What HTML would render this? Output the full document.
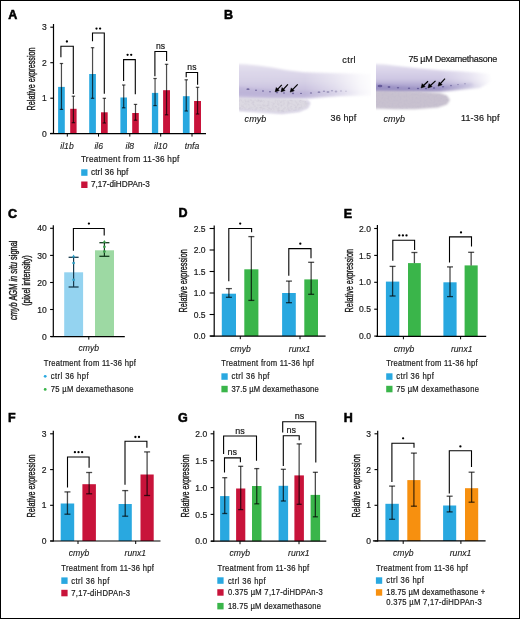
<!DOCTYPE html>
<html><head><meta charset="utf-8"><style>
html,body{margin:0;padding:0;background:#fff;}
svg{display:block;will-change:transform;}
text{font-family:"Liberation Sans",sans-serif;stroke:#1a1a1a;stroke-width:0.2px;}
</style></head><body>
<svg width="520" height="619" viewBox="0 0 520 619">
<rect x="0" y="0" width="520" height="619" fill="#fff"/>
<text x="8.2" y="18.6" font-size="12.5" fill="#000" font-weight="bold" style="stroke:#000;stroke-width:0.55px">A</text>
<line x1="53.5" y1="24" x2="53.5" y2="134.0" stroke="#000" stroke-width="1.2"/>
<line x1="50.3" y1="27.2" x2="53.5" y2="27.2" stroke="#000" stroke-width="1.1"/>
<text transform="translate(46.8,30.3) scale(0.95,1)" x="0" y="0" font-size="9" fill="#1a1a1a" text-anchor="end">3</text>
<line x1="50.3" y1="62.7" x2="53.5" y2="62.7" stroke="#000" stroke-width="1.1"/>
<text transform="translate(46.8,65.8) scale(0.95,1)" x="0" y="0" font-size="9" fill="#1a1a1a" text-anchor="end">2</text>
<line x1="50.3" y1="98.2" x2="53.5" y2="98.2" stroke="#000" stroke-width="1.1"/>
<text transform="translate(46.8,101.3) scale(0.95,1)" x="0" y="0" font-size="9" fill="#1a1a1a" text-anchor="end">1</text>
<line x1="50.3" y1="133.4" x2="53.5" y2="133.4" stroke="#000" stroke-width="1.1"/>
<text transform="translate(46.8,136.5) scale(0.95,1)" x="0" y="0" font-size="9" fill="#1a1a1a" text-anchor="end">0</text>
<text transform="translate(35.0,78.95) rotate(-90)" font-size="10.3" fill="#1a1a1a" text-anchor="middle" textLength="62.900000000000006" lengthAdjust="spacingAndGlyphs" style="stroke-width:0.38px">Relative expression</text>
<rect x="58.1" y="86.9" width="6.699999999999996" height="46.5" fill="#29A8E0"/>
<line x1="61.45" y1="63.5" x2="61.45" y2="109.4" stroke="#000" stroke-width="1.2" stroke-opacity="0.7"/>
<line x1="59.75" y1="63.5" x2="63.150000000000006" y2="63.5" stroke="#000" stroke-width="1.2" stroke-opacity="0.7"/>
<line x1="59.75" y1="109.4" x2="63.150000000000006" y2="109.4" stroke="#000" stroke-width="1.2" stroke-opacity="0.7"/>
<rect x="70.2" y="108.8" width="6.3999999999999915" height="24.60000000000001" fill="#C8133A"/>
<line x1="73.4" y1="96.2" x2="73.4" y2="122.7" stroke="#000" stroke-width="1.2" stroke-opacity="0.7"/>
<line x1="71.7" y1="96.2" x2="75.10000000000001" y2="96.2" stroke="#000" stroke-width="1.2" stroke-opacity="0.7"/>
<line x1="71.7" y1="122.7" x2="75.10000000000001" y2="122.7" stroke="#000" stroke-width="1.2" stroke-opacity="0.7"/>
<path d="M60.9,57.2 L60.9,46.3 L73.3,46.3 L73.3,94.0" fill="none" stroke="#000" stroke-width="1.1"/>
<circle cx="66.90" cy="41.5" r="1.15" fill="#000"/>
<rect x="89.2" y="74.0" width="6.700000000000003" height="59.400000000000006" fill="#29A8E0"/>
<line x1="92.55000000000001" y1="47.7" x2="92.55000000000001" y2="98.3" stroke="#000" stroke-width="1.2" stroke-opacity="0.7"/>
<line x1="90.85000000000001" y1="47.7" x2="94.25000000000001" y2="47.7" stroke="#000" stroke-width="1.2" stroke-opacity="0.7"/>
<line x1="90.85000000000001" y1="98.3" x2="94.25000000000001" y2="98.3" stroke="#000" stroke-width="1.2" stroke-opacity="0.7"/>
<rect x="101.0" y="112.3" width="6.700000000000003" height="21.10000000000001" fill="#C8133A"/>
<line x1="104.35" y1="98.3" x2="104.35" y2="123.0" stroke="#000" stroke-width="1.2" stroke-opacity="0.7"/>
<line x1="102.64999999999999" y1="98.3" x2="106.05" y2="98.3" stroke="#000" stroke-width="1.2" stroke-opacity="0.7"/>
<line x1="102.64999999999999" y1="123.0" x2="106.05" y2="123.0" stroke="#000" stroke-width="1.2" stroke-opacity="0.7"/>
<path d="M92.5,41.3 L92.5,33.0 L104.3,33.0 L104.3,93.7" fill="none" stroke="#000" stroke-width="1.1"/>
<circle cx="96.50" cy="28.6" r="1.15" fill="#000"/>
<circle cx="100.10" cy="28.6" r="1.15" fill="#000"/>
<rect x="120.4" y="97.5" width="6.599999999999994" height="35.900000000000006" fill="#29A8E0"/>
<line x1="123.7" y1="85.0" x2="123.7" y2="107.8" stroke="#000" stroke-width="1.2" stroke-opacity="0.7"/>
<line x1="122.0" y1="85.0" x2="125.4" y2="85.0" stroke="#000" stroke-width="1.2" stroke-opacity="0.7"/>
<line x1="122.0" y1="107.8" x2="125.4" y2="107.8" stroke="#000" stroke-width="1.2" stroke-opacity="0.7"/>
<rect x="132.2" y="113.0" width="6.600000000000023" height="20.400000000000006" fill="#C8133A"/>
<line x1="135.5" y1="104.4" x2="135.5" y2="120.2" stroke="#000" stroke-width="1.2" stroke-opacity="0.7"/>
<line x1="133.8" y1="104.4" x2="137.2" y2="104.4" stroke="#000" stroke-width="1.2" stroke-opacity="0.7"/>
<line x1="133.8" y1="120.2" x2="137.2" y2="120.2" stroke="#000" stroke-width="1.2" stroke-opacity="0.7"/>
<path d="M123.6,81.0 L123.6,59.6 L135.3,59.6 L135.3,94.2" fill="none" stroke="#000" stroke-width="1.1"/>
<circle cx="127.60" cy="54.8" r="1.15" fill="#000"/>
<circle cx="131.20" cy="54.8" r="1.15" fill="#000"/>
<rect x="151.9" y="92.9" width="6.299999999999983" height="40.5" fill="#29A8E0"/>
<line x1="155.05" y1="78.5" x2="155.05" y2="105.6" stroke="#000" stroke-width="1.2" stroke-opacity="0.7"/>
<line x1="153.35000000000002" y1="78.5" x2="156.75" y2="78.5" stroke="#000" stroke-width="1.2" stroke-opacity="0.7"/>
<line x1="153.35000000000002" y1="105.6" x2="156.75" y2="105.6" stroke="#000" stroke-width="1.2" stroke-opacity="0.7"/>
<rect x="163.1" y="90.2" width="6.900000000000006" height="43.2" fill="#C8133A"/>
<line x1="166.55" y1="64.3" x2="166.55" y2="114.8" stroke="#000" stroke-width="1.2" stroke-opacity="0.7"/>
<line x1="164.85000000000002" y1="64.3" x2="168.25" y2="64.3" stroke="#000" stroke-width="1.2" stroke-opacity="0.7"/>
<line x1="164.85000000000002" y1="114.8" x2="168.25" y2="114.8" stroke="#000" stroke-width="1.2" stroke-opacity="0.7"/>
<path d="M154.9,76.2 L154.9,51.5 L166.6,51.5 L166.6,61.0" fill="none" stroke="#000" stroke-width="1.1"/>
<text x="160.6" y="48.699999999999996" font-size="8.6" fill="#1a1a1a" text-anchor="middle">ns</text>
<rect x="182.9" y="96.2" width="6.699999999999989" height="37.2" fill="#29A8E0"/>
<line x1="186.25" y1="79.8" x2="186.25" y2="111.0" stroke="#000" stroke-width="1.2" stroke-opacity="0.7"/>
<line x1="184.55" y1="79.8" x2="187.95" y2="79.8" stroke="#000" stroke-width="1.2" stroke-opacity="0.7"/>
<line x1="184.55" y1="111.0" x2="187.95" y2="111.0" stroke="#000" stroke-width="1.2" stroke-opacity="0.7"/>
<rect x="194.1" y="101.0" width="6.900000000000006" height="32.400000000000006" fill="#C8133A"/>
<line x1="197.55" y1="87.3" x2="197.55" y2="114.0" stroke="#000" stroke-width="1.2" stroke-opacity="0.7"/>
<line x1="195.85000000000002" y1="87.3" x2="199.25" y2="87.3" stroke="#000" stroke-width="1.2" stroke-opacity="0.7"/>
<line x1="195.85000000000002" y1="114.0" x2="199.25" y2="114.0" stroke="#000" stroke-width="1.2" stroke-opacity="0.7"/>
<path d="M186.2,77.3 L186.2,72.5 L197.6,72.5 L197.6,84.8" fill="none" stroke="#000" stroke-width="1.1"/>
<text x="191.9" y="69.80000000000001" font-size="8.6" fill="#1a1a1a" text-anchor="middle">ns</text>
<line x1="50" y1="133.6" x2="206" y2="133.6" stroke="#000" stroke-width="1.2"/>
<line x1="67.3" y1="133.6" x2="67.3" y2="136.6" stroke="#000" stroke-width="1"/>
<line x1="98.5" y1="133.6" x2="98.5" y2="136.6" stroke="#000" stroke-width="1"/>
<line x1="129.8" y1="133.6" x2="129.8" y2="136.6" stroke="#000" stroke-width="1"/>
<line x1="160.7" y1="133.6" x2="160.7" y2="136.6" stroke="#000" stroke-width="1"/>
<line x1="192.0" y1="133.6" x2="192.0" y2="136.6" stroke="#000" stroke-width="1"/>
<text transform="translate(67,148.8) scale(0.9,1)" x="0" y="0" font-size="9.6" fill="#1a1a1a" text-anchor="middle" font-style="italic" style="stroke-width:0.12px">il1b</text>
<text transform="translate(98.7,148.8) scale(0.9,1)" x="0" y="0" font-size="9.6" fill="#1a1a1a" text-anchor="middle" font-style="italic" style="stroke-width:0.12px">il6</text>
<text transform="translate(129.8,148.8) scale(0.9,1)" x="0" y="0" font-size="9.6" fill="#1a1a1a" text-anchor="middle" font-style="italic" style="stroke-width:0.12px">il8</text>
<text transform="translate(160.7,148.8) scale(0.9,1)" x="0" y="0" font-size="9.6" fill="#1a1a1a" text-anchor="middle" font-style="italic" style="stroke-width:0.12px">il10</text>
<text transform="translate(192,148.8) scale(0.9,1)" x="0" y="0" font-size="9.6" fill="#1a1a1a" text-anchor="middle" font-style="italic" style="stroke-width:0.12px">tnfa</text>
<text transform="translate(80.9,161.8) scale(0.92,1)" x="0" y="0" font-size="8.9" fill="#1a1a1a" textLength="107.0" lengthAdjust="spacing">Treatment from 11-36 hpf</text>
<rect x="81.2" y="169.3" width="6.299999999999997" height="6.5" fill="#29A8E0"/>
<text transform="translate(90.9,175.0) scale(0.92,1)" x="0" y="0" font-size="8.9" fill="#1a1a1a" textLength="40.7" lengthAdjust="spacing">ctrl 36 hpf</text>
<rect x="81.2" y="181.5" width="6.299999999999997" height="6.5" fill="#C8133A"/>
<text transform="translate(90.9,187.2) scale(0.92,1)" x="0" y="0" font-size="8.9" fill="#1a1a1a" textLength="64.0" lengthAdjust="spacing">7,17-diHDPAn-3</text>
<text x="224.0" y="18.7" font-size="12.5" fill="#000" font-weight="bold" style="stroke:#000;stroke-width:0.55px">B</text>
<defs>
<filter id="bl1" x="-20%" y="-50%" width="140%" height="200%"><feGaussianBlur stdDeviation="1"/></filter>
<filter id="bl05" x="-20%" y="-50%" width="140%" height="200%"><feGaussianBlur stdDeviation="0.55"/></filter>
<linearGradient id="v1" x1="0" y1="64" x2="0" y2="99" gradientUnits="userSpaceOnUse">
<stop offset="0" stop-color="#e6e2ef"/><stop offset="0.22" stop-color="#ddd8ea"/><stop offset="0.5" stop-color="#d6d0e6"/><stop offset="0.7" stop-color="#cbc4e0"/><stop offset="0.85" stop-color="#c4bcdc"/><stop offset="1" stop-color="#cfc8e2"/>
</linearGradient>
<linearGradient id="v2" x1="0" y1="64" x2="0" y2="92" gradientUnits="userSpaceOnUse">
<stop offset="0" stop-color="#e3dfee"/><stop offset="0.25" stop-color="#d9d3e9"/><stop offset="0.55" stop-color="#cdc6e2"/><stop offset="0.78" stop-color="#aea5d0"/><stop offset="1" stop-color="#b5adcd"/>
</linearGradient>
<linearGradient id="fade1" x1="239" y1="0" x2="371" y2="0" gradientUnits="userSpaceOnUse">
<stop offset="0" stop-color="#fff"/><stop offset="0.5" stop-color="#fff"/><stop offset="0.72" stop-color="#fff" stop-opacity="0.6"/><stop offset="0.92" stop-color="#fff" stop-opacity="0.15"/><stop offset="1" stop-color="#fff" stop-opacity="0.05"/>
</linearGradient>
<linearGradient id="fade2" x1="376" y1="0" x2="492" y2="0" gradientUnits="userSpaceOnUse">
<stop offset="0" stop-color="#fff"/><stop offset="0.55" stop-color="#fff"/><stop offset="0.8" stop-color="#fff" stop-opacity="0.55"/><stop offset="1" stop-color="#fff" stop-opacity="0"/>
</linearGradient>
<mask id="m1"><rect x="239" y="40" width="132" height="80" fill="url(#fade1)"/></mask>
<mask id="m2"><rect x="376" y="40" width="135" height="80" fill="url(#fade2)"/></mask>
<clipPath id="c1"><rect x="239" y="40" width="132" height="80"/></clipPath>
<clipPath id="c2"><rect x="376" y="40" width="135" height="80"/></clipPath>
<filter id="tex" x="0" y="0" width="100%" height="100%"><feTurbulence type="fractalNoise" baseFrequency="0.4" numOctaves="2" seed="3"/><feColorMatrix values="0 0 0 0 0.42  0 0 0 0 0.38  0 0 0 0 0.5  0 0 0 1.1 -0.45"/><feComposite in2="SourceGraphic" operator="in"/></filter>
<filter id="tex2" x="0" y="0" width="100%" height="100%"><feTurbulence type="fractalNoise" baseFrequency="0.5" numOctaves="2" seed="7"/><feColorMatrix values="0 0 0 0 0.5  0 0 0 0 0.46  0 0 0 0 0.6  0 0 0 1.1 -0.45"/><feComposite in2="SourceGraphic" operator="in"/></filter>
</defs>
<g clip-path="url(#c1)">
<g mask="url(#m1)">
<path filter="url(#bl1)" d="M232,63.8 L245,64.3 L258,65.6 L272,67.6 L287,70.2 L304,72.3 L330,73 L380,74 L380,95 L340,96 L310,98.5 L280,99.5 L232,99.5 Z" fill="url(#v1)"/>
<path filter="url(#bl1)" d="M232,86 L260,89 L290,91.5 L320,91 L345,90 L375,90 L375,95 L345,95.5 L320,96 L300,97.5 L270,97.5 L232,95 Z" fill="#b4aad4" opacity="0.45"/>
<g filter="url(#bl05)" fill="#625892" opacity="0.8">
<ellipse cx="248" cy="89.2" rx="1.6" ry="0.9"/>
<ellipse cx="256" cy="90.2" rx="1" ry="0.7"/>
<ellipse cx="263" cy="91" rx="1" ry="0.7"/>
<ellipse cx="270" cy="91.8" rx="1" ry="0.7"/>
<ellipse cx="277" cy="92.6" rx="1.2" ry="0.8"/>
<ellipse cx="284" cy="93" rx="1.1" ry="0.8"/>
<ellipse cx="293" cy="93.4" rx="1.2" ry="0.8"/>
<ellipse cx="301" cy="93.4" rx="1" ry="0.7"/>
<ellipse cx="311" cy="93" rx="1.1" ry="0.8"/>
<ellipse cx="319" cy="92.2" rx="1.4" ry="0.9"/>
<ellipse cx="324" cy="91.2" rx="1.2" ry="0.8"/>
<ellipse cx="328" cy="92" rx="1.5" ry="1"/>
<ellipse cx="332" cy="90.8" rx="1.2" ry="0.8"/>
<ellipse cx="336" cy="91.5" rx="1.3" ry="0.9"/>
<ellipse cx="341" cy="91" rx="1.1" ry="0.8"/>
<ellipse cx="346" cy="91.3" rx="0.9" ry="0.7"/>
</g>
</g>
<path filter="url(#bl1)" d="M232,97.5 L270,98.5 L300,98.8 L306,100 L309.5,103 L307.5,107.5 L299,111 L282,113 L262,111.8 L232,110 Z" fill="#dcd9e2"/>
<path d="M239,99 L270,99.5 L300,99.8 L305.5,101 L308.5,103.5 L306.5,107.5 L298.5,110.5 L282,112.3 L262,111 L239,109.5 Z" filter="url(#tex)" opacity="0.5"/>
<path filter="url(#bl1)" d="M306,100 L309.5,103 L307.5,107.5 L299,111 L282,113 L262,111.8 L239,110" fill="none" stroke="#cbc4de" stroke-width="1.3" opacity="0.9"/>
</g>
<g clip-path="url(#c2)">
<g mask="url(#m2)">
<path filter="url(#bl1)" d="M369,63.8 L385,64.5 L400,66.3 L420,68.5 L440,70.2 L460,71.2 L478,72.5 L490,74 L495,80 L480,88 L460,90 L440,92 L369,93 Z" fill="url(#v2)"/>
<path filter="url(#bl1)" d="M369,83.5 L395,86 L420,87.5 L440,86.8 L460,84.3 L472,83 L474,86 L455,89 L430,91 L400,92 L369,91 Z" fill="#8e84bd" opacity="0.6"/>
<g filter="url(#bl05)" fill="#584d8f" opacity="0.8">
<ellipse cx="380" cy="86" rx="2.4" ry="1.3"/>
<ellipse cx="389" cy="87" rx="1.4" ry="0.9"/>
<ellipse cx="398" cy="87.8" rx="1.2" ry="0.8"/>
<ellipse cx="409" cy="88.2" rx="1.2" ry="0.8"/>
<ellipse cx="418" cy="88.5" rx="1.2" ry="0.8"/>
<ellipse cx="426" cy="88.5" rx="1.2" ry="0.8"/>
<ellipse cx="434" cy="88" rx="1.2" ry="0.8"/>
<ellipse cx="443" cy="86.8" rx="1.2" ry="0.8"/>
<ellipse cx="451" cy="85.6" rx="1.1" ry="0.8"/>
<ellipse cx="458" cy="84.6" rx="1" ry="0.7"/>
<ellipse cx="465" cy="83.8" rx="0.9" ry="0.7"/>
</g>
</g>
<path filter="url(#bl1)" d="M369,91 L420,91.5 L440,93 L447,95.5 L450,100 L447,104.5 L438,107.5 L415,109.2 L395,109.2 L369,108.3 Z" fill="#c8c1cf"/>
<path d="M376,91.5 L420,92 L440,93.5 L446,96 L448.5,100 L446,104 L437,107 L415,108.8 L395,108.8 L376,108 Z" filter="url(#tex2)" opacity="0.6"/>
</g>
<g stroke="#000" stroke-width="1.2" fill="#000">
<line x1="281.8" y1="84.9" x2="276.6" y2="90.4"/><path d="M275.2,91.8 L276.3,87.6 L279.2,90.5 Z" stroke-width="0.6"/>
<line x1="287.9" y1="84.3" x2="282.4" y2="90.4"/><path d="M281,91.8 L282.1,87.6 L285,90.5 Z" stroke-width="0.6"/>
<line x1="297.7" y1="84.3" x2="291.6" y2="90.7"/><path d="M290.2,92.1 L291.3,87.9 L294.2,90.8 Z" stroke-width="0.6"/>
<line x1="428" y1="81.2" x2="422.5" y2="86.5"/><path d="M421.1,87.9 L422.2,83.7 L425.1,86.6 Z" stroke-width="0.6"/>
<line x1="435.5" y1="80.9" x2="429.4" y2="86.5"/><path d="M428,87.9 L429.1,83.7 L432,86.6 Z" stroke-width="0.6"/>
<line x1="445" y1="78.6" x2="439.5" y2="84.7"/><path d="M438.1,86.1 L439.2,81.9 L442.1,84.8 Z" stroke-width="0.6"/>
</g>

<text x="342.2" y="62.5" font-size="9" fill="#1a1a1a" textLength="13.4" lengthAdjust="spacing">ctrl</text>
<text x="330.6" y="121" font-size="9" fill="#1a1a1a" textLength="25.6" lengthAdjust="spacing">36 hpf</text>
<text x="244.6" y="121.7" font-size="9" fill="#1a1a1a" font-style="italic" style="stroke-width:0.12px" textLength="21.6" lengthAdjust="spacing">cmyb</text>
<text x="408.5" y="61.7" font-size="9" fill="#1a1a1a" textLength="88.8" lengthAdjust="spacing">75 µM Dexamethasone</text>
<text x="383.5" y="121.8" font-size="9" fill="#1a1a1a" font-style="italic" style="stroke-width:0.12px" textLength="21.6" lengthAdjust="spacing">cmyb</text>
<text x="461" y="121" font-size="9" fill="#1a1a1a" textLength="38.5" lengthAdjust="spacing">11-36 hpf</text>
<text x="8.1" y="218.0" font-size="12.5" fill="#000" font-weight="bold" style="stroke:#000;stroke-width:0.55px">C</text>
<line x1="53.3" y1="225.2" x2="53.3" y2="337.0" stroke="#000" stroke-width="1.2"/>
<line x1="50.099999999999994" y1="228.3" x2="53.3" y2="228.3" stroke="#000" stroke-width="1.1"/>
<text transform="translate(46.8,231.4) scale(0.95,1)" x="0" y="0" font-size="9" fill="#1a1a1a" text-anchor="end">40</text>
<line x1="50.099999999999994" y1="255.4" x2="53.3" y2="255.4" stroke="#000" stroke-width="1.1"/>
<text transform="translate(46.8,258.5) scale(0.95,1)" x="0" y="0" font-size="9" fill="#1a1a1a" text-anchor="end">30</text>
<line x1="50.099999999999994" y1="282.5" x2="53.3" y2="282.5" stroke="#000" stroke-width="1.1"/>
<text transform="translate(46.8,285.6) scale(0.95,1)" x="0" y="0" font-size="9" fill="#1a1a1a" text-anchor="end">20</text>
<line x1="50.099999999999994" y1="309.5" x2="53.3" y2="309.5" stroke="#000" stroke-width="1.1"/>
<text transform="translate(46.8,312.6) scale(0.95,1)" x="0" y="0" font-size="9" fill="#1a1a1a" text-anchor="end">10</text>
<line x1="50.099999999999994" y1="336.5" x2="53.3" y2="336.5" stroke="#000" stroke-width="1.1"/>
<text transform="translate(46.8,339.6) scale(0.95,1)" x="0" y="0" font-size="9" fill="#1a1a1a" text-anchor="end">0</text>
<text transform="translate(16.8,280.3) rotate(-90)" font-size="10.3" fill="#1a1a1a" text-anchor="middle" textLength="79.6" lengthAdjust="spacingAndGlyphs" style="stroke-width:0.38px"><tspan font-style="italic">cmyb</tspan> AGM <tspan font-style="italic">in situ</tspan> signal</text>
<text transform="translate(29.5,280.55) rotate(-90)" font-size="10.3" fill="#1a1a1a" text-anchor="middle" textLength="50.5" lengthAdjust="spacingAndGlyphs" style="stroke-width:0.38px">(pixel intensity)</text>
<rect x="64.2" y="272.3" width="18.89999999999999" height="64.19999999999999" fill="#94D3F0"/>
<rect x="95.0" y="250.3" width="19.0" height="86.19999999999999" fill="#9DD9A3"/>
<line x1="73.6" y1="257.3" x2="73.6" y2="287.0" stroke="#183a4e" stroke-width="1.2"/>
<line x1="68.6" y1="257.3" x2="78.6" y2="257.3" stroke="#183a4e" stroke-width="1.3"/>
<line x1="68.6" y1="287.0" x2="78.6" y2="287.0" stroke="#183a4e" stroke-width="1.3"/>
<line x1="104.4" y1="242.7" x2="104.4" y2="256.3" stroke="#143a1e" stroke-width="1.2"/>
<line x1="99.4" y1="242.7" x2="109.4" y2="242.7" stroke="#143a1e" stroke-width="1.3"/>
<line x1="99.4" y1="256.3" x2="109.4" y2="256.3" stroke="#143a1e" stroke-width="1.3"/>
<path d="M73.6,254.6 L75.4,257.4 L71.8,257.4 Z" fill="#2b9cc2"/>
<circle cx="73.6" cy="263.0" r="1.35" fill="#2b9cc2"/>
<circle cx="73.6" cy="279.8" r="1.35" fill="#2b9cc2"/>
<path d="M104.4,240.0 L106.2,242.8 L102.6,242.8 Z" fill="#3a9c4b"/>
<circle cx="104.4" cy="246.8" r="1.35" fill="#3a9c4b"/>
<circle cx="104.4" cy="251.6" r="1.35" fill="#3a9c4b"/>
<path d="M73.4,250.8 L73.4,228.5 L104.2,228.5 L104.2,235.4" fill="none" stroke="#000" stroke-width="1.1"/>
<circle cx="88.90" cy="223.6" r="1.15" fill="#000"/>
<line x1="50.7" y1="336.6" x2="124.8" y2="336.6" stroke="#000" stroke-width="1.2"/>
<line x1="88.8" y1="336.6" x2="88.8" y2="339.6" stroke="#000" stroke-width="1"/>
<text transform="translate(88.8,351.3) scale(0.9,1)" x="0" y="0" font-size="9.6" fill="#1a1a1a" text-anchor="middle" font-style="italic" style="stroke-width:0.12px">cmyb</text>
<text transform="translate(43.8,366.2) scale(0.92,1)" x="0" y="0" font-size="8.3" fill="#1a1a1a" textLength="100.0" lengthAdjust="spacing">Treatment from 11-36 hpf</text>
<circle cx="45.2" cy="376.3" r="1.4" fill="#29A8E0"/>
<circle cx="45.2" cy="389.4" r="1.4" fill="#3AB54A"/>
<text transform="translate(50.8,379.2) scale(0.92,1)" x="0" y="0" font-size="8.3" fill="#1a1a1a" textLength="41.0" lengthAdjust="spacing">ctrl 36 hpf</text>
<text transform="translate(50.8,391.9) scale(0.92,1)" x="0" y="0" font-size="8.3" fill="#1a1a1a" textLength="89.9" lengthAdjust="spacing">75 µM dexamethasone</text>
<text x="178.5" y="217.2" font-size="12.5" fill="#000" font-weight="bold" style="stroke:#000;stroke-width:0.55px">D</text>
<line x1="214.2" y1="225.4" x2="214.2" y2="336.6" stroke="#000" stroke-width="1.2"/>
<line x1="209.6" y1="228.5" x2="214.2" y2="228.5" stroke="#000" stroke-width="1.1"/>
<text transform="translate(205.6,231.6) scale(0.95,1)" x="0" y="0" font-size="9" fill="#1a1a1a" text-anchor="end">2.5</text>
<line x1="209.6" y1="250.0" x2="214.2" y2="250.0" stroke="#000" stroke-width="1.1"/>
<text transform="translate(205.6,253.1) scale(0.95,1)" x="0" y="0" font-size="9" fill="#1a1a1a" text-anchor="end">2.0</text>
<line x1="209.6" y1="271.5" x2="214.2" y2="271.5" stroke="#000" stroke-width="1.1"/>
<text transform="translate(205.6,274.6) scale(0.95,1)" x="0" y="0" font-size="9" fill="#1a1a1a" text-anchor="end">1.5</text>
<line x1="209.6" y1="293.0" x2="214.2" y2="293.0" stroke="#000" stroke-width="1.1"/>
<text transform="translate(205.6,296.1) scale(0.95,1)" x="0" y="0" font-size="9" fill="#1a1a1a" text-anchor="end">1.0</text>
<line x1="209.6" y1="314.5" x2="214.2" y2="314.5" stroke="#000" stroke-width="1.1"/>
<text transform="translate(205.6,317.6) scale(0.95,1)" x="0" y="0" font-size="9" fill="#1a1a1a" text-anchor="end">0.5</text>
<line x1="209.6" y1="336.0" x2="214.2" y2="336.0" stroke="#000" stroke-width="1.1"/>
<text transform="translate(205.6,339.1) scale(0.95,1)" x="0" y="0" font-size="9" fill="#1a1a1a" text-anchor="end">0.0</text>
<text transform="translate(186.8,280.85) rotate(-90)" font-size="10.3" fill="#1a1a1a" text-anchor="middle" textLength="63.1" lengthAdjust="spacingAndGlyphs" style="stroke-width:0.38px">Relative expression</text>
<rect x="221.8" y="293.7" width="14.199999999999989" height="42.400000000000034" fill="#29A8E0"/>
<line x1="228.9" y1="288.6" x2="228.9" y2="297.3" stroke="#000" stroke-width="1.3" stroke-opacity="0.7"/>
<line x1="225.9" y1="288.6" x2="231.9" y2="288.6" stroke="#000" stroke-width="1.3" stroke-opacity="0.7"/>
<line x1="225.9" y1="297.3" x2="231.9" y2="297.3" stroke="#000" stroke-width="1.3" stroke-opacity="0.7"/>
<rect x="244.3" y="269.3" width="14.099999999999966" height="66.80000000000001" fill="#3AB54A"/>
<line x1="251.35" y1="236.6" x2="251.35" y2="300.4" stroke="#000" stroke-width="1.3" stroke-opacity="0.7"/>
<line x1="248.35" y1="236.6" x2="254.35" y2="236.6" stroke="#000" stroke-width="1.3" stroke-opacity="0.7"/>
<line x1="248.35" y1="300.4" x2="254.35" y2="300.4" stroke="#000" stroke-width="1.3" stroke-opacity="0.7"/>
<path d="M228.8,281.2 L228.8,228.5 L251.6,228.5 L251.6,232.3" fill="none" stroke="#000" stroke-width="1.1"/>
<circle cx="240.20" cy="223.6" r="1.15" fill="#000"/>
<rect x="282.1" y="293.0" width="13.699999999999989" height="43.10000000000002" fill="#29A8E0"/>
<line x1="288.95000000000005" y1="281.1" x2="288.95000000000005" y2="302.7" stroke="#000" stroke-width="1.3" stroke-opacity="0.7"/>
<line x1="285.95000000000005" y1="281.1" x2="291.95000000000005" y2="281.1" stroke="#000" stroke-width="1.3" stroke-opacity="0.7"/>
<line x1="285.95000000000005" y1="302.7" x2="291.95000000000005" y2="302.7" stroke="#000" stroke-width="1.3" stroke-opacity="0.7"/>
<rect x="304.3" y="279.4" width="13.699999999999989" height="56.700000000000045" fill="#3AB54A"/>
<line x1="311.15" y1="262.3" x2="311.15" y2="294.3" stroke="#000" stroke-width="1.3" stroke-opacity="0.7"/>
<line x1="308.15" y1="262.3" x2="314.15" y2="262.3" stroke="#000" stroke-width="1.3" stroke-opacity="0.7"/>
<line x1="308.15" y1="294.3" x2="314.15" y2="294.3" stroke="#000" stroke-width="1.3" stroke-opacity="0.7"/>
<path d="M288.8,275.8 L288.8,248.6 L311.0,248.6 L311.0,258.3" fill="none" stroke="#000" stroke-width="1.1"/>
<circle cx="300.30" cy="243.7" r="1.15" fill="#000"/>
<line x1="210.2" y1="336.2" x2="325.6" y2="336.2" stroke="#000" stroke-width="1.2"/>
<line x1="240.3" y1="336.2" x2="240.3" y2="339.2" stroke="#000" stroke-width="1"/>
<line x1="300.0" y1="336.2" x2="300.0" y2="339.2" stroke="#000" stroke-width="1"/>
<text transform="translate(240.5,351.5) scale(0.9,1)" x="0" y="0" font-size="9.6" fill="#1a1a1a" text-anchor="middle" font-style="italic" style="stroke-width:0.12px">cmyb</text>
<text transform="translate(299.6,351.5) scale(0.9,1)" x="0" y="0" font-size="9.6" fill="#1a1a1a" text-anchor="middle" font-style="italic" style="stroke-width:0.12px">runx1</text>
<text transform="translate(221.2,366.4) scale(0.92,1)" x="0" y="0" font-size="8.3" fill="#1a1a1a" textLength="100.8" lengthAdjust="spacing">Treatment from 11-36 hpf</text>
<rect x="221.4" y="373.3" width="6.300000000000011" height="6.5" fill="#29A8E0"/>
<text transform="translate(231.4,379.0) scale(0.92,1)" x="0" y="0" font-size="8.3" fill="#1a1a1a" textLength="41.4" lengthAdjust="spacing">ctrl 36 hpf</text>
<rect x="221.4" y="385.8" width="6.300000000000011" height="6.5" fill="#3AB54A"/>
<text transform="translate(231.4,391.7) scale(0.92,1)" x="0" y="0" font-size="8.3" fill="#1a1a1a" textLength="94.9" lengthAdjust="spacing">37.5 µM dexamethasone</text>
<text x="343.8" y="217.7" font-size="12.5" fill="#000" font-weight="bold" style="stroke:#000;stroke-width:0.55px">E</text>
<line x1="377.4" y1="225.1" x2="377.4" y2="336.7" stroke="#000" stroke-width="1.2"/>
<line x1="374.2" y1="228.5" x2="377.4" y2="228.5" stroke="#000" stroke-width="1.1"/>
<text transform="translate(370.9,231.6) scale(0.95,1)" x="0" y="0" font-size="9" fill="#1a1a1a" text-anchor="end">2.0</text>
<line x1="374.2" y1="255.4" x2="377.4" y2="255.4" stroke="#000" stroke-width="1.1"/>
<text transform="translate(370.9,258.5) scale(0.95,1)" x="0" y="0" font-size="9" fill="#1a1a1a" text-anchor="end">1.5</text>
<line x1="374.2" y1="282.3" x2="377.4" y2="282.3" stroke="#000" stroke-width="1.1"/>
<text transform="translate(370.9,285.40000000000003) scale(0.95,1)" x="0" y="0" font-size="9" fill="#1a1a1a" text-anchor="end">1.0</text>
<line x1="374.2" y1="309.2" x2="377.4" y2="309.2" stroke="#000" stroke-width="1.1"/>
<text transform="translate(370.9,312.3) scale(0.95,1)" x="0" y="0" font-size="9" fill="#1a1a1a" text-anchor="end">0.5</text>
<line x1="374.2" y1="336.1" x2="377.4" y2="336.1" stroke="#000" stroke-width="1.1"/>
<text transform="translate(370.9,339.20000000000005) scale(0.95,1)" x="0" y="0" font-size="9" fill="#1a1a1a" text-anchor="end">0.0</text>
<text transform="translate(352.8,280.7) rotate(-90)" font-size="10.3" fill="#1a1a1a" text-anchor="middle" textLength="63.400000000000006" lengthAdjust="spacingAndGlyphs" style="stroke-width:0.38px">Relative expression</text>
<rect x="385.9" y="281.6" width="13.400000000000034" height="54.599999999999966" fill="#29A8E0"/>
<line x1="392.6" y1="266.4" x2="392.6" y2="296.0" stroke="#000" stroke-width="1.3" stroke-opacity="0.7"/>
<line x1="389.6" y1="266.4" x2="395.6" y2="266.4" stroke="#000" stroke-width="1.3" stroke-opacity="0.7"/>
<line x1="389.6" y1="296.0" x2="395.6" y2="296.0" stroke="#000" stroke-width="1.3" stroke-opacity="0.7"/>
<rect x="408.0" y="263.1" width="12.800000000000011" height="73.09999999999997" fill="#3AB54A"/>
<line x1="414.4" y1="252.5" x2="414.4" y2="263.1" stroke="#000" stroke-width="1.3" stroke-opacity="0.7"/>
<line x1="411.4" y1="252.5" x2="417.4" y2="252.5" stroke="#000" stroke-width="1.3" stroke-opacity="0.7"/>
<path d="M392.8,260.8 L392.8,240.3 L414.6,240.3 L414.6,250.0" fill="none" stroke="#000" stroke-width="1.1"/>
<circle cx="399.30" cy="235.4" r="1.15" fill="#000"/>
<circle cx="402.90" cy="235.4" r="1.15" fill="#000"/>
<circle cx="406.50" cy="235.4" r="1.15" fill="#000"/>
<rect x="443.4" y="282.3" width="13.200000000000045" height="53.89999999999998" fill="#29A8E0"/>
<line x1="450.0" y1="266.9" x2="450.0" y2="296.6" stroke="#000" stroke-width="1.3" stroke-opacity="0.7"/>
<line x1="447.0" y1="266.9" x2="453.0" y2="266.9" stroke="#000" stroke-width="1.3" stroke-opacity="0.7"/>
<line x1="447.0" y1="296.6" x2="453.0" y2="296.6" stroke="#000" stroke-width="1.3" stroke-opacity="0.7"/>
<rect x="464.6" y="265.4" width="13.099999999999966" height="70.80000000000001" fill="#3AB54A"/>
<line x1="471.15" y1="252.3" x2="471.15" y2="265.4" stroke="#000" stroke-width="1.3" stroke-opacity="0.7"/>
<line x1="468.15" y1="252.3" x2="474.15" y2="252.3" stroke="#000" stroke-width="1.3" stroke-opacity="0.7"/>
<path d="M449.5,262.6 L449.5,236.9 L471.5,236.9 L471.5,246.6" fill="none" stroke="#000" stroke-width="1.1"/>
<circle cx="461.00" cy="232.4" r="1.15" fill="#000"/>
<line x1="375.8" y1="336.3" x2="486.2" y2="336.3" stroke="#000" stroke-width="1.2"/>
<line x1="403.4" y1="336.3" x2="403.4" y2="339.3" stroke="#000" stroke-width="1"/>
<line x1="460.6" y1="336.3" x2="460.6" y2="339.3" stroke="#000" stroke-width="1"/>
<text transform="translate(404.0,351.5) scale(0.9,1)" x="0" y="0" font-size="9.6" fill="#1a1a1a" text-anchor="middle" font-style="italic" style="stroke-width:0.12px">cmyb</text>
<text transform="translate(461.7,351.5) scale(0.9,1)" x="0" y="0" font-size="9.6" fill="#1a1a1a" text-anchor="middle" font-style="italic" style="stroke-width:0.12px">runx1</text>
<text transform="translate(386.2,366.4) scale(0.92,1)" x="0" y="0" font-size="8.3" fill="#1a1a1a" textLength="99.5" lengthAdjust="spacing">Treatment from 11-36 hpf</text>
<rect x="386.2" y="373.3" width="6.300000000000011" height="6.5" fill="#29A8E0"/>
<text transform="translate(396.2,379.0) scale(0.92,1)" x="0" y="0" font-size="8.3" fill="#1a1a1a" textLength="41.0" lengthAdjust="spacing">ctrl 36 hpf</text>
<rect x="386.2" y="385.8" width="6.300000000000011" height="6.5" fill="#3AB54A"/>
<text transform="translate(396.2,391.7) scale(0.92,1)" x="0" y="0" font-size="8.3" fill="#1a1a1a" textLength="89.9" lengthAdjust="spacing">75 µM dexamethasone</text>
<text x="8.0" y="421.9" font-size="12.5" fill="#000" font-weight="bold" style="stroke:#000;stroke-width:0.55px">F</text>
<line x1="53.3" y1="430.8" x2="53.3" y2="541.5" stroke="#000" stroke-width="1.2"/>
<line x1="50.099999999999994" y1="433.8" x2="53.3" y2="433.8" stroke="#000" stroke-width="1.1"/>
<text transform="translate(46.6,436.90000000000003) scale(0.95,1)" x="0" y="0" font-size="9" fill="#1a1a1a" text-anchor="end">3</text>
<line x1="50.099999999999994" y1="469.6" x2="53.3" y2="469.6" stroke="#000" stroke-width="1.1"/>
<text transform="translate(46.6,472.70000000000005) scale(0.95,1)" x="0" y="0" font-size="9" fill="#1a1a1a" text-anchor="end">2</text>
<line x1="50.099999999999994" y1="505.3" x2="53.3" y2="505.3" stroke="#000" stroke-width="1.1"/>
<text transform="translate(46.6,508.40000000000003) scale(0.95,1)" x="0" y="0" font-size="9" fill="#1a1a1a" text-anchor="end">1</text>
<line x1="50.099999999999994" y1="541.0" x2="53.3" y2="541.0" stroke="#000" stroke-width="1.1"/>
<text transform="translate(46.6,544.1) scale(0.95,1)" x="0" y="0" font-size="9" fill="#1a1a1a" text-anchor="end">0</text>
<text transform="translate(35.0,486.0) rotate(-90)" font-size="10.3" fill="#1a1a1a" text-anchor="middle" textLength="62.800000000000004" lengthAdjust="spacingAndGlyphs" style="stroke-width:0.38px">Relative expression</text>
<rect x="60.7" y="503.5" width="13.5" height="37.5" fill="#29A8E0"/>
<line x1="67.45" y1="491.9" x2="67.45" y2="514.2" stroke="#000" stroke-width="1.3" stroke-opacity="0.7"/>
<line x1="64.45" y1="491.9" x2="70.45" y2="491.9" stroke="#000" stroke-width="1.3" stroke-opacity="0.7"/>
<line x1="64.45" y1="514.2" x2="70.45" y2="514.2" stroke="#000" stroke-width="1.3" stroke-opacity="0.7"/>
<rect x="82.4" y="484.2" width="13.5" height="56.80000000000001" fill="#C8133A"/>
<line x1="89.15" y1="472.5" x2="89.15" y2="493.8" stroke="#000" stroke-width="1.3" stroke-opacity="0.7"/>
<line x1="86.15" y1="472.5" x2="92.15" y2="472.5" stroke="#000" stroke-width="1.3" stroke-opacity="0.7"/>
<line x1="86.15" y1="493.8" x2="92.15" y2="493.8" stroke="#000" stroke-width="1.3" stroke-opacity="0.7"/>
<path d="M67.5,487.5 L67.5,457.0 L89.1,457.0 L89.1,467.7" fill="none" stroke="#000" stroke-width="1.1"/>
<circle cx="74.90" cy="452.2" r="1.15" fill="#000"/>
<circle cx="78.50" cy="452.2" r="1.15" fill="#000"/>
<circle cx="82.10" cy="452.2" r="1.15" fill="#000"/>
<rect x="118.6" y="504.0" width="13.200000000000017" height="37.0" fill="#29A8E0"/>
<line x1="125.2" y1="490.6" x2="125.2" y2="516.2" stroke="#000" stroke-width="1.3" stroke-opacity="0.7"/>
<line x1="122.2" y1="490.6" x2="128.2" y2="490.6" stroke="#000" stroke-width="1.3" stroke-opacity="0.7"/>
<line x1="122.2" y1="516.2" x2="128.2" y2="516.2" stroke="#000" stroke-width="1.3" stroke-opacity="0.7"/>
<rect x="140.5" y="474.5" width="13.199999999999989" height="66.5" fill="#C8133A"/>
<line x1="147.1" y1="451.9" x2="147.1" y2="495.5" stroke="#000" stroke-width="1.3" stroke-opacity="0.7"/>
<line x1="144.1" y1="451.9" x2="150.1" y2="451.9" stroke="#000" stroke-width="1.3" stroke-opacity="0.7"/>
<line x1="144.1" y1="495.5" x2="150.1" y2="495.5" stroke="#000" stroke-width="1.3" stroke-opacity="0.7"/>
<path d="M125.0,484.8 L125.0,441.2 L146.9,441.2 L146.9,447.8" fill="none" stroke="#000" stroke-width="1.1"/>
<circle cx="135.40" cy="437.0" r="1.15" fill="#000"/>
<circle cx="139.00" cy="437.0" r="1.15" fill="#000"/>
<line x1="50.2" y1="541.0" x2="160.5" y2="541.0" stroke="#000" stroke-width="1.2"/>
<line x1="78.0" y1="541.0" x2="78.0" y2="544.0" stroke="#000" stroke-width="1"/>
<line x1="135.7" y1="541.0" x2="135.7" y2="544.0" stroke="#000" stroke-width="1"/>
<text transform="translate(79.0,556.0) scale(0.9,1)" x="0" y="0" font-size="9.6" fill="#1a1a1a" text-anchor="middle" font-style="italic" style="stroke-width:0.12px">cmyb</text>
<text transform="translate(135.3,556.0) scale(0.9,1)" x="0" y="0" font-size="9.6" fill="#1a1a1a" text-anchor="middle" font-style="italic" style="stroke-width:0.12px">runx1</text>
<text transform="translate(61.2,571.1) scale(0.92,1)" x="0" y="0" font-size="8.3" fill="#1a1a1a" textLength="100.8" lengthAdjust="spacing">Treatment from 11-36 hpf</text>
<rect x="61.3" y="577.4" width="6.299999999999997" height="6.5" fill="#29A8E0"/>
<text transform="translate(71.2,583.6) scale(0.92,1)" x="0" y="0" font-size="8.3" fill="#1a1a1a" textLength="41.4" lengthAdjust="spacing">ctrl 36 hpf</text>
<rect x="61.3" y="589.8" width="6.299999999999997" height="6.5" fill="#C8133A"/>
<text transform="translate(71.2,596.0) scale(0.92,1)" x="0" y="0" font-size="8.3" fill="#1a1a1a" textLength="64.0" lengthAdjust="spacing">7,17-diHDPAn-3</text>
<text x="178.0" y="422.2" font-size="12.5" fill="#000" font-weight="bold" style="stroke:#000;stroke-width:0.55px">G</text>
<line x1="213.8" y1="430.8" x2="213.8" y2="541.7" stroke="#000" stroke-width="1.2"/>
<line x1="210.60000000000002" y1="433.8" x2="213.8" y2="433.8" stroke="#000" stroke-width="1.1"/>
<text transform="translate(207.2,436.90000000000003) scale(0.95,1)" x="0" y="0" font-size="9" fill="#1a1a1a" text-anchor="end">2.0</text>
<line x1="210.60000000000002" y1="460.7" x2="213.8" y2="460.7" stroke="#000" stroke-width="1.1"/>
<text transform="translate(207.2,463.8) scale(0.95,1)" x="0" y="0" font-size="9" fill="#1a1a1a" text-anchor="end">1.5</text>
<line x1="210.60000000000002" y1="487.6" x2="213.8" y2="487.6" stroke="#000" stroke-width="1.1"/>
<text transform="translate(207.2,490.70000000000005) scale(0.95,1)" x="0" y="0" font-size="9" fill="#1a1a1a" text-anchor="end">1.0</text>
<line x1="210.60000000000002" y1="514.4" x2="213.8" y2="514.4" stroke="#000" stroke-width="1.1"/>
<text transform="translate(207.2,517.5) scale(0.95,1)" x="0" y="0" font-size="9" fill="#1a1a1a" text-anchor="end">0.5</text>
<line x1="210.60000000000002" y1="541.2" x2="213.8" y2="541.2" stroke="#000" stroke-width="1.1"/>
<text transform="translate(207.2,544.3000000000001) scale(0.95,1)" x="0" y="0" font-size="9" fill="#1a1a1a" text-anchor="end">0.0</text>
<text transform="translate(188.6,486.0) rotate(-90)" font-size="10.3" fill="#1a1a1a" text-anchor="middle" textLength="62.800000000000004" lengthAdjust="spacingAndGlyphs" style="stroke-width:0.38px">Relative expression</text>
<rect x="220.1" y="496.1" width="9.300000000000011" height="45.10000000000002" fill="#29A8E0"/>
<line x1="224.75" y1="477.7" x2="224.75" y2="513.5" stroke="#000" stroke-width="1.3" stroke-opacity="0.7"/>
<line x1="222.25" y1="477.7" x2="227.25" y2="477.7" stroke="#000" stroke-width="1.3" stroke-opacity="0.7"/>
<line x1="222.25" y1="513.5" x2="227.25" y2="513.5" stroke="#000" stroke-width="1.3" stroke-opacity="0.7"/>
<rect x="236.1" y="488.5" width="9.200000000000017" height="52.700000000000045" fill="#C8133A"/>
<line x1="240.7" y1="466.3" x2="240.7" y2="509.6" stroke="#000" stroke-width="1.3" stroke-opacity="0.7"/>
<line x1="238.2" y1="466.3" x2="243.2" y2="466.3" stroke="#000" stroke-width="1.3" stroke-opacity="0.7"/>
<line x1="238.2" y1="509.6" x2="243.2" y2="509.6" stroke="#000" stroke-width="1.3" stroke-opacity="0.7"/>
<rect x="252.0" y="486.0" width="9.5" height="55.200000000000045" fill="#3AB54A"/>
<line x1="256.75" y1="468.6" x2="256.75" y2="503.8" stroke="#000" stroke-width="1.3" stroke-opacity="0.7"/>
<line x1="254.25" y1="468.6" x2="259.25" y2="468.6" stroke="#000" stroke-width="1.3" stroke-opacity="0.7"/>
<line x1="254.25" y1="503.8" x2="259.25" y2="503.8" stroke="#000" stroke-width="1.3" stroke-opacity="0.7"/>
<path d="M223.6,454.0 L223.6,436.0 L256.5,436.0 L256.5,460.8" fill="none" stroke="#000" stroke-width="1.1"/>
<text x="240.0" y="433.5" font-size="9" fill="#1a1a1a" text-anchor="middle">ns</text>
<path d="M224.5,472.5 L224.5,457.9 L240.4,457.9 L240.4,462.2" fill="none" stroke="#000" stroke-width="1.1"/>
<text x="232.3" y="455.0" font-size="9" fill="#1a1a1a" text-anchor="middle">ns</text>
<rect x="278.6" y="485.8" width="9.5" height="55.400000000000034" fill="#29A8E0"/>
<line x1="283.35" y1="469.3" x2="283.35" y2="501.0" stroke="#000" stroke-width="1.3" stroke-opacity="0.7"/>
<line x1="280.85" y1="469.3" x2="285.85" y2="469.3" stroke="#000" stroke-width="1.3" stroke-opacity="0.7"/>
<line x1="280.85" y1="501.0" x2="285.85" y2="501.0" stroke="#000" stroke-width="1.3" stroke-opacity="0.7"/>
<rect x="294.4" y="475.4" width="9.5" height="65.80000000000007" fill="#C8133A"/>
<line x1="299.15" y1="443.9" x2="299.15" y2="504.3" stroke="#000" stroke-width="1.3" stroke-opacity="0.7"/>
<line x1="296.65" y1="443.9" x2="301.65" y2="443.9" stroke="#000" stroke-width="1.3" stroke-opacity="0.7"/>
<line x1="296.65" y1="504.3" x2="301.65" y2="504.3" stroke="#000" stroke-width="1.3" stroke-opacity="0.7"/>
<rect x="310.6" y="494.9" width="9.5" height="46.30000000000007" fill="#3AB54A"/>
<line x1="315.35" y1="472.3" x2="315.35" y2="516.8" stroke="#000" stroke-width="1.3" stroke-opacity="0.7"/>
<line x1="312.85" y1="472.3" x2="317.85" y2="472.3" stroke="#000" stroke-width="1.3" stroke-opacity="0.7"/>
<line x1="312.85" y1="516.8" x2="317.85" y2="516.8" stroke="#000" stroke-width="1.3" stroke-opacity="0.7"/>
<path d="M282.7,432.5 L282.7,421.7 L315.8,421.7 L315.8,462.6" fill="none" stroke="#000" stroke-width="1.1"/>
<text x="299.4" y="418.6" font-size="9" fill="#1a1a1a" text-anchor="middle">ns</text>
<path d="M283.3,466.0 L283.3,435.8 L299.2,435.8 L299.2,440.2" fill="none" stroke="#000" stroke-width="1.1"/>
<text x="291.3" y="432.7" font-size="9" fill="#1a1a1a" text-anchor="middle">ns</text>
<line x1="210.9" y1="541.2" x2="326.3" y2="541.2" stroke="#000" stroke-width="1.2"/>
<line x1="240.0" y1="541.2" x2="240.0" y2="544.2" stroke="#000" stroke-width="1"/>
<line x1="299.0" y1="541.2" x2="299.0" y2="544.2" stroke="#000" stroke-width="1"/>
<text transform="translate(239.7,556.0) scale(0.9,1)" x="0" y="0" font-size="9.6" fill="#1a1a1a" text-anchor="middle" font-style="italic" style="stroke-width:0.12px">cmyb</text>
<text transform="translate(298.8,556.0) scale(0.9,1)" x="0" y="0" font-size="9.6" fill="#1a1a1a" text-anchor="middle" font-style="italic" style="stroke-width:0.12px">runx1</text>
<text transform="translate(217.6,570.5) scale(0.92,1)" x="0" y="0" font-size="8.3" fill="#1a1a1a" textLength="99.5" lengthAdjust="spacing">Treatment from 11-36 hpf</text>
<rect x="217.3" y="577.3" width="6.300000000000011" height="6.5" fill="#29A8E0"/>
<text transform="translate(227.9,583.7) scale(0.92,1)" x="0" y="0" font-size="8.3" fill="#1a1a1a" textLength="41.0" lengthAdjust="spacing">ctrl 36 hpf</text>
<rect x="217.3" y="589.2" width="6.300000000000011" height="6.5" fill="#C8133A"/>
<text transform="translate(227.9,595.2) scale(0.92,1)" x="0" y="0" font-size="8.3" fill="#1a1a1a" textLength="103.2" lengthAdjust="spacing">0.375 µM 7,17-diHDPAn-3</text>
<rect x="217.3" y="602.9" width="6.300000000000011" height="6.5" fill="#3AB54A"/>
<text transform="translate(227.9,608.9) scale(0.92,1)" x="0" y="0" font-size="8.3" fill="#1a1a1a" textLength="101.2" lengthAdjust="spacing">18.75 µM dexamethasone</text>
<text x="343.8" y="422.2" font-size="12.5" fill="#000" font-weight="bold" style="stroke:#000;stroke-width:0.55px">H</text>
<line x1="377.7" y1="430.8" x2="377.7" y2="541.5" stroke="#000" stroke-width="1.2"/>
<line x1="374.5" y1="433.8" x2="377.7" y2="433.8" stroke="#000" stroke-width="1.1"/>
<text transform="translate(370.9,436.90000000000003) scale(0.95,1)" x="0" y="0" font-size="9" fill="#1a1a1a" text-anchor="end">3</text>
<line x1="374.5" y1="469.6" x2="377.7" y2="469.6" stroke="#000" stroke-width="1.1"/>
<text transform="translate(370.9,472.70000000000005) scale(0.95,1)" x="0" y="0" font-size="9" fill="#1a1a1a" text-anchor="end">2</text>
<line x1="374.5" y1="505.3" x2="377.7" y2="505.3" stroke="#000" stroke-width="1.1"/>
<text transform="translate(370.9,508.40000000000003) scale(0.95,1)" x="0" y="0" font-size="9" fill="#1a1a1a" text-anchor="end">1</text>
<line x1="374.5" y1="541.0" x2="377.7" y2="541.0" stroke="#000" stroke-width="1.1"/>
<text transform="translate(370.9,544.1) scale(0.95,1)" x="0" y="0" font-size="9" fill="#1a1a1a" text-anchor="end">0</text>
<text transform="translate(359.8,485.85) rotate(-90)" font-size="10.3" fill="#1a1a1a" text-anchor="middle" textLength="63.1" lengthAdjust="spacingAndGlyphs" style="stroke-width:0.38px">Relative expression</text>
<rect x="385.4" y="503.8" width="13.400000000000034" height="37.19999999999999" fill="#29A8E0"/>
<line x1="392.1" y1="486.1" x2="392.1" y2="519.3" stroke="#000" stroke-width="1.3" stroke-opacity="0.7"/>
<line x1="389.1" y1="486.1" x2="395.1" y2="486.1" stroke="#000" stroke-width="1.3" stroke-opacity="0.7"/>
<line x1="389.1" y1="519.3" x2="395.1" y2="519.3" stroke="#000" stroke-width="1.3" stroke-opacity="0.7"/>
<rect x="407.3" y="480.1" width="13.199999999999989" height="60.89999999999998" fill="#F7900F"/>
<line x1="413.9" y1="453.1" x2="413.9" y2="506.2" stroke="#000" stroke-width="1.3" stroke-opacity="0.7"/>
<line x1="410.9" y1="453.1" x2="416.9" y2="453.1" stroke="#000" stroke-width="1.3" stroke-opacity="0.7"/>
<line x1="410.9" y1="506.2" x2="416.9" y2="506.2" stroke="#000" stroke-width="1.3" stroke-opacity="0.7"/>
<path d="M391.9,481.9 L391.9,443.2 L414.0,443.2 L414.0,447.8" fill="none" stroke="#000" stroke-width="1.1"/>
<circle cx="403.10" cy="438.3" r="1.15" fill="#000"/>
<rect x="443.1" y="505.5" width="13.099999999999966" height="35.5" fill="#29A8E0"/>
<line x1="449.65" y1="496.2" x2="449.65" y2="511.9" stroke="#000" stroke-width="1.3" stroke-opacity="0.7"/>
<line x1="446.65" y1="496.2" x2="452.65" y2="496.2" stroke="#000" stroke-width="1.3" stroke-opacity="0.7"/>
<line x1="446.65" y1="511.9" x2="452.65" y2="511.9" stroke="#000" stroke-width="1.3" stroke-opacity="0.7"/>
<rect x="465.0" y="488.2" width="13.199999999999989" height="52.80000000000001" fill="#F7900F"/>
<line x1="471.6" y1="472.2" x2="471.6" y2="502.2" stroke="#000" stroke-width="1.3" stroke-opacity="0.7"/>
<line x1="468.6" y1="472.2" x2="474.6" y2="472.2" stroke="#000" stroke-width="1.3" stroke-opacity="0.7"/>
<line x1="468.6" y1="502.2" x2="474.6" y2="502.2" stroke="#000" stroke-width="1.3" stroke-opacity="0.7"/>
<path d="M449.3,493.5 L449.3,450.8 L471.5,450.8 L471.5,466.9" fill="none" stroke="#000" stroke-width="1.1"/>
<circle cx="460.40" cy="446.4" r="1.15" fill="#000"/>
<line x1="372.9" y1="540.9" x2="485.6" y2="540.9" stroke="#000" stroke-width="1.2"/>
<line x1="403.2" y1="540.9" x2="403.2" y2="543.9" stroke="#000" stroke-width="1"/>
<line x1="460.9" y1="540.9" x2="460.9" y2="543.9" stroke="#000" stroke-width="1"/>
<text transform="translate(403.3,556.1) scale(0.9,1)" x="0" y="0" font-size="9.6" fill="#1a1a1a" text-anchor="middle" font-style="italic" style="stroke-width:0.12px">cmyb</text>
<text transform="translate(460.5,556.1) scale(0.9,1)" x="0" y="0" font-size="9.6" fill="#1a1a1a" text-anchor="middle" font-style="italic" style="stroke-width:0.12px">runx1</text>
<text transform="translate(376.0,570.6) scale(0.92,1)" x="0" y="0" font-size="8.3" fill="#1a1a1a" textLength="99.9" lengthAdjust="spacing">Treatment from 11-36 hpf</text>
<rect x="375.9" y="577.3" width="6.300000000000011" height="6.5" fill="#29A8E0"/>
<text transform="translate(386.2,583.0) scale(0.92,1)" x="0" y="0" font-size="8.3" fill="#1a1a1a" textLength="41.0" lengthAdjust="spacing">ctrl 36 hpf</text>
<rect x="375.9" y="589.2" width="6.300000000000011" height="6.5" fill="#F7900F"/>
<text transform="translate(386.3,594.8) scale(0.92,1)" x="0" y="0" font-size="8.3" fill="#1a1a1a" textLength="107.4" lengthAdjust="spacing">18.75 µM dexamethasone +</text>
<text transform="translate(386.3,605.0) scale(0.92,1)" x="0" y="0" font-size="8.3" fill="#1a1a1a" textLength="103.7" lengthAdjust="spacing">0.375 µM 7,17-diHDPAn-3</text>
<rect x="0.5" y="0.5" width="519" height="618" fill="none" stroke="#000" stroke-width="1"/>
</svg>
</body></html>
